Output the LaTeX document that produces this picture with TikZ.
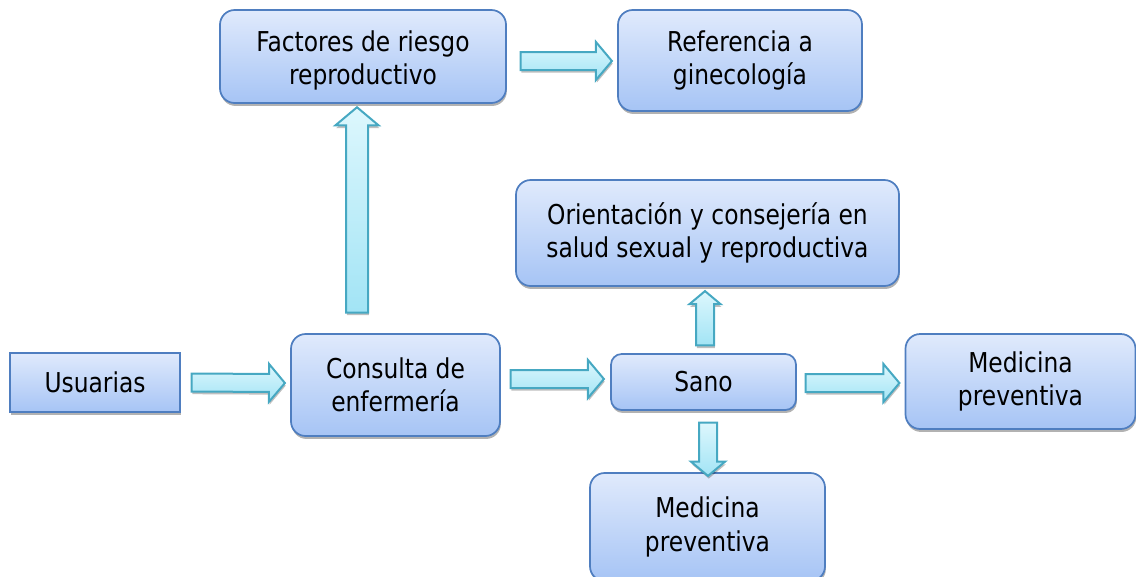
\documentclass[tikz,border=0pt]{standalone}
\usepackage{fontspec}
\setmainfont{DejaVu Sans Condensed}[FakeStretch=0.95]
\usetikzlibrary{shapes.arrows,shadows,calc}
\definecolor{boxborder}{HTML}{4F7EC0}
\definecolor{boxtop}{HTML}{E0EAFC}
\definecolor{boxbot}{HTML}{A6C4F5}
\definecolor{arrborder}{HTML}{46A8C2}
\definecolor{arrtop}{HTML}{DDF7FD}
\definecolor{arrbot}{HTML}{A2E4F5}
\tikzset{
  box/.style={draw=boxborder, line width=1.3pt, rounded corners=11pt,
    top color=boxtop, bottom color=boxbot, align=center,
    font=\fontsize{20.5}{25}\selectfont, inner sep=0pt,
    drop shadow={shadow xshift=0.6pt, shadow yshift=-2.2pt, opacity=0.3, fill=black}},
  sqbox/.style={box, rounded corners=0pt},
  barrow/.style={single arrow, draw=arrborder, line width=1.5pt,
    top color=arrtop, bottom color=arrbot, inner sep=0pt,
    single arrow tip angle=100, outer sep=0pt,
    drop shadow={shadow xshift=0.6pt, shadow yshift=-2pt, opacity=0.25, fill=black}},
}
\newcommand\blockarr[4]{% from, to, shaft width, head extend
  \path let \p1=($(#2)-(#1)$), \n1={veclen(\x1,\y1)} in (#1) -- (#2)
    node[midway, sloped, barrow, minimum height=\n1, text height=0pt, text depth=0pt,
      inner ysep=#3/2, single arrow head extend=#4] {};}
\begin{document}
\begin{tikzpicture}[x=0.75pt,y=-0.75pt]
\useasboundingbox (0,0) rectangle (1136,576);
\begin{scope}
\clip (0,0) rectangle (1136,576);
\node[box, minimum width=214.5pt, minimum height=69.75pt] (fac) at (363,56.5) {};
\node[font=\fontsize{20.5}{25}\selectfont, align=center, inner sep=0pt] (factxt) at (363,60.5) {Factores de riesgo\\reproductivo};
\node[box, minimum width=183pt, minimum height=75.75pt] (ref) at (740,60.5) {Referencia a\\ginecología};
\node[box, minimum width=287.25pt, minimum height=79.5pt] (ori) at (707.5,233) {Orientación y consejería en\\salud sexual y reproductiva};
\node[sqbox, minimum width=127.5pt, minimum height=44.25pt] (usu) at (95,382.5) {Usuarias};
\node[box, minimum width=156.75pt, minimum height=76.5pt] (con) at (395.5,385) {Consulta de\\enfermería};
\node[box, minimum width=138.75pt, minimum height=42pt, rounded corners=8pt] (sano) at (703.5,382) {Sano};
\node[box, minimum width=172.5pt, minimum height=71.25pt] (medr) at (1020.5,381.5) {Medicina\\preventiva};
\node[box, minimum width=176.25pt, minimum height=81pt] (medb) at (707.5,527) {Medicina\\preventiva};

\coordinate (a1s) at ($(usu.east)+(7,0)$);
\coordinate (a1e) at ($(con.west)+(-9,-2)$);
\coordinate (a2s) at ($(con.east)+(6,-6)$);
\coordinate (a2e) at ($(sano.west)+(-10,-3)$);
\coordinate (a3s) at ($(sano.east)+(5,1)$);
\coordinate (a3e) at ($(medr.west)+(-9,1.5)$);
\coordinate (a4s) at ($(fac.east)+(10,4.5)$);
\coordinate (a4e) at ($(ref.west)+(-9,0.5)$);
\coordinate (a5s) at ($(con.north)+(-38.5,-16)$);
\coordinate (a5e) at ($(fac.south)+(-6,8)$);
\coordinate (a6s) at ($(sano.north)+(1.5,-4)$);
\coordinate (a6e) at ($(ori.south)+(-2.5,8)$);
\coordinate (a7s) at ($(sano.south)+(4.5,8)$);
\coordinate (a7e) at ($(medb.north)+(0.5,0)$);

\blockarr{a1s}{a1e}{12pt}{7.5pt}
\blockarr{a2s}{a2e}{12pt}{7.5pt}
\blockarr{a3s}{a3e}{12pt}{7.5pt}
\blockarr{a4s}{a4e}{12pt}{7.5pt}
\blockarr{a5s}{a5e}{15pt}{8pt}
\blockarr{a6s}{a6e}{12pt}{5pt}
\blockarr{a7s}{a7e}{12pt}{6pt}
\end{scope}
\end{tikzpicture}
\end{document}
